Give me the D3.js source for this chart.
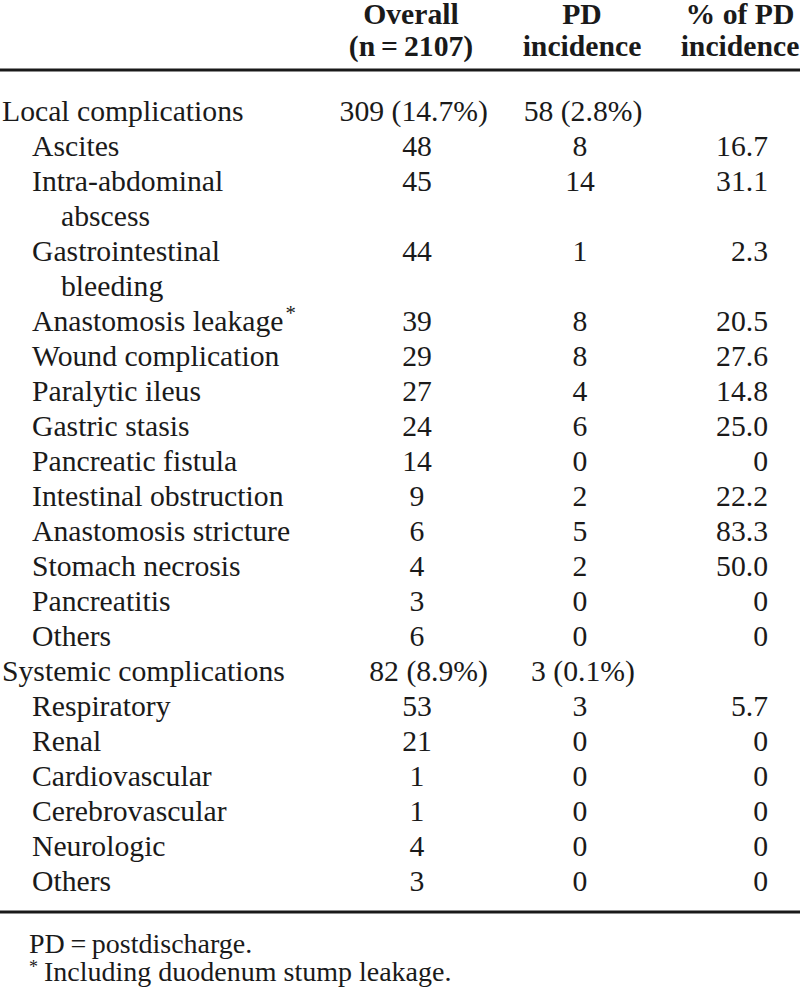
<!DOCTYPE html>
<html>
<head>
<meta charset="utf-8">
<script src="https://cdn.jsdelivr.net/npm/d3@7"></script>
<style>
  html, body { margin: 0; padding: 0; background: #fff; }
  svg { display: block; }
  text { font-family: "Liberation Serif", "Times New Roman", serif; fill: #1a1a1a; }
</style>
</head>
<body>
<div id="chart"></div>
<script>
// ---- data ----
const headerLine1 = ["Overall", "PD", "% of PD"];
const headerLine2 = ["(n\u2009=\u20092107)", "incidence", "incidence"];
const categories = [
  "Local complications", "Ascites", "Intra-abdominal\nabscess", "Gastrointestinal\nbleeding",
  "Anastomosis leakage", "Wound complication", "Paralytic ileus", "Gastric stasis",
  "Pancreatic fistula", "Intestinal obstruction", "Anastomosis stricture", "Stomach necrosis",
  "Pancreatitis", "Others", "Systemic complications", "Respiratory", "Renal",
  "Cardiovascular", "Cerebrovascular", "Neurologic", "Others"
];
const levels = [0,1,1,1,1,1,1,1,1,1,1,1,1,1,0,1,1,1,1,1,1];
const markers = ["","","","","*","","","","","","","","","","","","","","","",""];
const overallValues = ["309 (14.7%)","48","45","44","39","29","27","24","14","9","6","4","3","6",
                       "82 (8.9%)","53","21","1","1","4","3"];
const pdValues = ["58 (2.8%)","8","14","1","8","8","4","6","0","2","5","2","0","0",
                  "3 (0.1%)","3","0","0","0","0","0"];
const pctValues = ["","16.7","31.1","2.3","20.5","27.6","14.8","25.0","0","22.2","83.3","50.0","0","0",
                   "","5.7","0","0","0","0","0"];
const footnotes = [{mark: "", text: "PD\u2009=\u2009postdischarge."},
                   {mark: "*", text: "Including duodenum stump leakage."}];

// ---- layout ----
const W = 800, H = 990;
const FS = 29.7;
const svg = d3.select("#chart").append("svg").attr("width", W).attr("height", H);

// assign line indices
let li = 0;
const rows = categories.map((c, i) => {
  const lines = c.split("\n");
  const r = {label: lines, level: levels[i], mark: markers[i], ov: overallValues[i], pd: pdValues[i], pct: pctValues[i], line: li};
  li += lines.length;
  return r;
});
const totalLines = li;

const y = d3.scaleLinear().domain([0, totalLines - 1]).range([121, 891]);
const indent = d3.scaleOrdinal().domain([0, 1, 2]).range([2, 32, 61]);
const colX = d3.scaleOrdinal().domain(["ov", "ovSum", "pd", "pdSum", "pct", "h0", "h1", "h2"])
  .range([417, 488, 580, 583, 768, 411, 582, 740]);

// header
const hdr = svg.append("g").attr("font-weight", "bold").attr("font-size", FS).attr("text-anchor", "middle");
headerLine1.forEach((t, i) => {
  hdr.append("text").attr("x", colX("h" + i)).attr("y", 23.5).text(t);
});
headerLine2.forEach((t, i) => {
  hdr.append("text").attr("x", colX("h" + i)).attr("y", 56).text(t);
});

svg.append("line").attr("x1", 0).attr("x2", W).attr("y1", 70).attr("y2", 70)
  .attr("stroke", "#1a1a1a").attr("stroke-width", 2.8);

// body
const body = svg.append("g").attr("font-size", FS);
const rg = body.selectAll("g.row").data(rows).join("g").attr("class", "row");

rg.each(function(d) {
  const g = d3.select(this);
  d.label.forEach((t, k) => {
    const lvl = k === 0 ? d.level : d.level + 1;
    const tx = g.append("text").attr("x", indent(lvl)).attr("y", y(d.line + k)).text(t);
    if (k === 0 && d.mark) {
      tx.append("tspan").attr("font-size", FS * 0.7).attr("dy", -11).attr("dx", 2).text(d.mark);
    }
  });
  const isSum = d.level === 0;
  g.append("text").attr("x", isSum ? colX("ovSum") : colX("ov")).attr("y", y(d.line))
    .attr("text-anchor", isSum ? "end" : "middle").text(d.ov);
  g.append("text").attr("x", isSum ? colX("pdSum") : colX("pd")).attr("y", y(d.line))
    .attr("text-anchor", "middle").text(d.pd);
  g.append("text").attr("x", colX("pct")).attr("y", y(d.line))
    .attr("text-anchor", "end").text(d.pct);
});

svg.append("line").attr("x1", 0).attr("x2", W).attr("y1", 912).attr("y2", 912)
  .attr("stroke", "#1a1a1a").attr("stroke-width", 2.8);

// footnotes
const fn = svg.append("g").attr("font-size", 28);
footnotes.forEach((f, i) => {
  const t = fn.append("text").attr("x", 29).attr("y", 953 + i * 28);
  if (f.mark) {
    t.append("tspan").attr("font-size", 18).attr("dy", -8).text(f.mark);
    t.append("tspan").attr("dy", 8).attr("dx", 6).text(f.text);
  } else {
    t.text(f.text);
  }
});
</script>
</body>
</html>
